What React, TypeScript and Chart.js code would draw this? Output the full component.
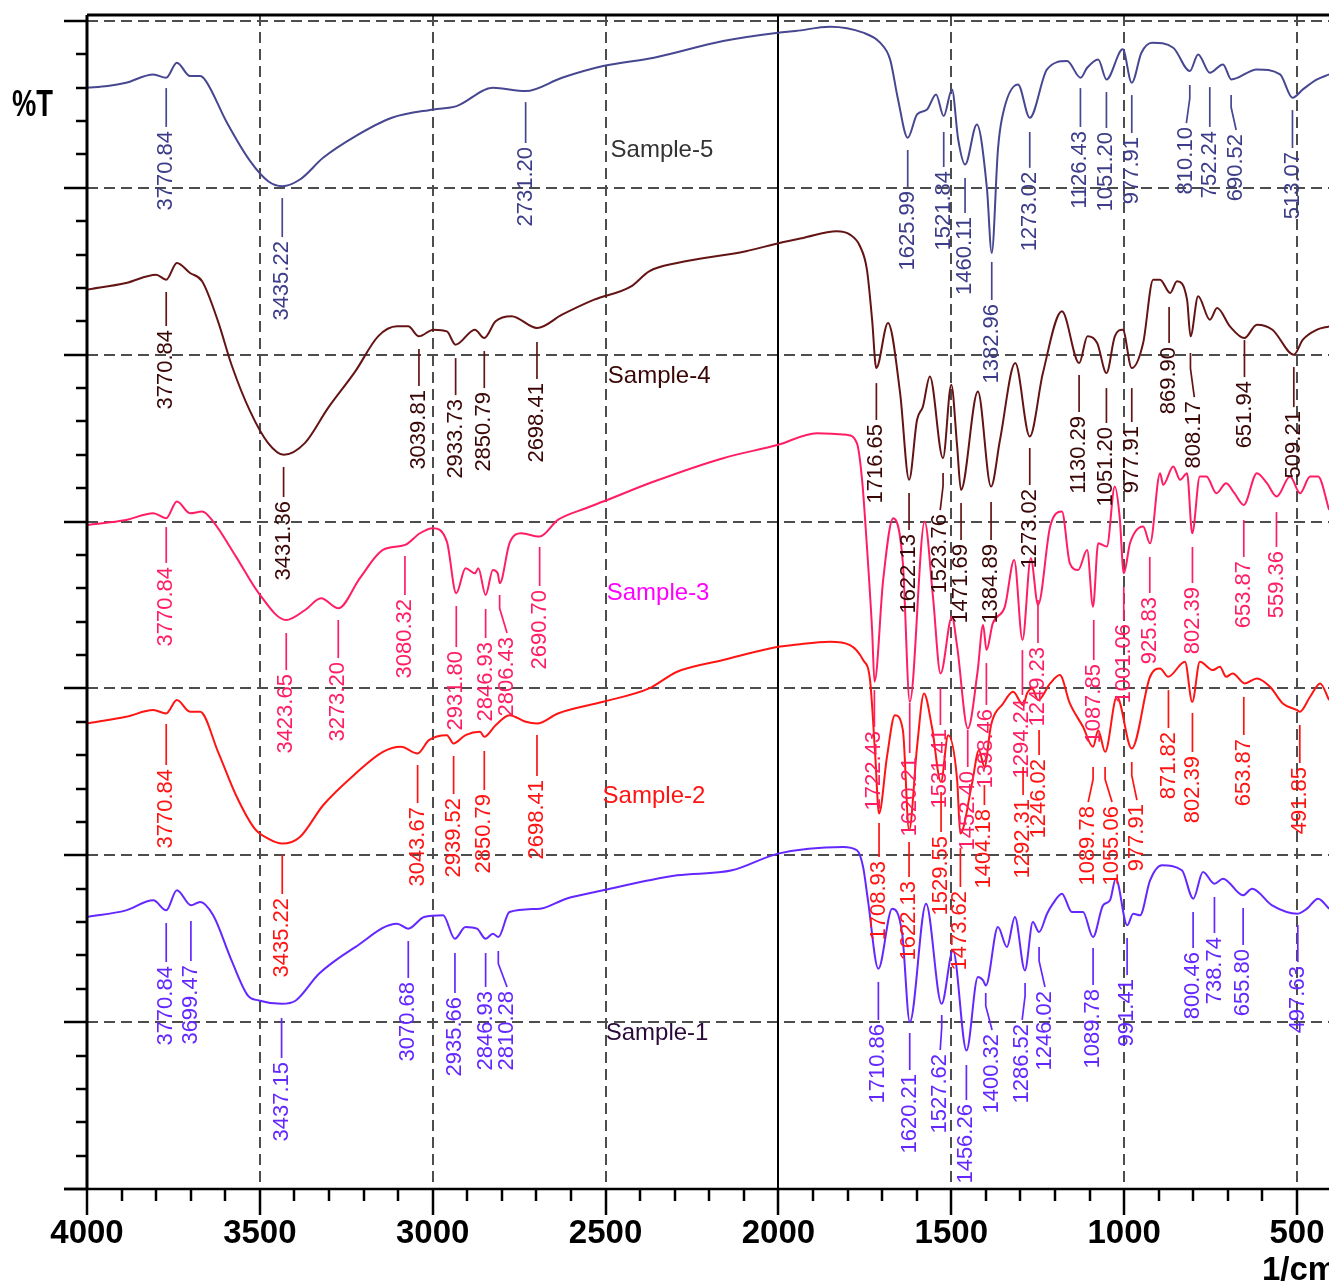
import React, { useEffect, useRef } from "react";
import { Chart, registerables } from "chart.js";

Chart.register(...registerables);

// ---------- axis values ----------
const X_MAX = 4000;
const X_MIN = 407.4;
const Y_MIN = 0;
const Y_MAX = 70.36;
const X_TICKS = [500, 1000, 1500, 2000, 2500, 3000, 3500, 4000];
const X_GRID = [3500, 3000, 2500, 1500, 1000, 500];
const X_BREAK = 2000;
const Y_GRID = [10, 20, 30, 40, 50, 60, 70];
const X_MAJOR = 500;
const X_MINOR = 100;
const Y_MAJOR = 10;
const Y_MINOR = 2;

// ---------- series: [wavenumber, %T (offset)] ----------
const SAMPLE5: [number, number][] = [
  [4000, 66.0], [3940, 66.1], [3887, 66.3], [3808, 66.8], [3771, 66.6], [3740, 67.5], [3702, 66.7], [3673, 66.7],
  [3656, 66.4], [3595, 63.9], [3528, 61.6], [3476, 60.4], [3435, 60.1], [3384, 60.5], [3317, 61.8], [3223, 63.1],
  [3118, 64.2], [2998, 64.7], [2931, 64.9], [2826, 66.0], [2731, 65.8], [2626, 66.6], [2507, 67.3], [2360, 67.8],
  [2160, 68.8], [2001, 69.3], [1950, 69.4], [1851, 69.66], [1755, 69.3], [1706, 68.7], [1677, 67.7], [1654, 65.3],
  [1626, 63.0], [1599, 64.4], [1570, 64.7], [1544, 65.6], [1522, 64.3], [1498, 65.9], [1480, 62.9], [1460, 61.4],
  [1426, 63.8], [1397, 60.0], [1383, 56.1], [1365, 62.3], [1353, 64.2], [1307, 66.2], [1273, 64.2], [1223, 67.1],
  [1165, 67.6], [1126, 66.6], [1107, 67.2], [1075, 67.7], [1051, 66.5], [1004, 68.3], [978, 66.3], [950, 68.1],
  [919, 68.7], [858, 68.4], [810, 67.0], [786, 68.0], [752, 66.9], [714, 67.4], [690, 66.5], [616, 67.1],
  [549, 66.8], [513, 65.4], [483, 65.9], [442, 66.5], [407, 66.8],
];

const SAMPLE4: [number, number][] = [
  [4000, 53.9], [3887, 54.3], [3800, 54.8], [3771, 54.5], [3740, 55.5], [3702, 54.9], [3667, 54.4], [3621, 52.0],
  [3582, 49.4], [3528, 46.6], [3476, 44.7], [3431, 44.0], [3370, 44.7], [3303, 46.8], [3224, 49.0], [3158, 51.1],
  [3103, 51.7], [3071, 51.7], [3040, 51.1], [2998, 51.5], [2959, 51.4], [2934, 50.6], [2878, 51.5], [2851, 51.0],
  [2818, 52.0], [2772, 52.3], [2698, 51.6], [2626, 52.4], [2533, 53.3], [2426, 54.1], [2374, 55.0], [2293, 55.5],
  [2094, 56.2], [1997, 56.7], [1929, 57.0], [1831, 57.4], [1793, 57.2], [1764, 56.5], [1744, 55.1], [1729, 52.1],
  [1717, 49.2], [1683, 51.9], [1648, 47.7], [1622, 42.5], [1599, 46.1], [1582, 46.9], [1562, 48.7], [1524, 43.8],
  [1500, 48.2], [1483, 44.5], [1472, 41.9], [1423, 47.8], [1385, 42.1], [1359, 44.9], [1315, 49.5], [1273, 45.1],
  [1235, 48.9], [1180, 52.6], [1130, 49.5], [1106, 51.1], [1078, 50.7], [1051, 48.9], [1027, 51.1], [1004, 51.5],
  [978, 49.2], [945, 50.7], [916, 54.5], [896, 54.5], [867, 53.7], [847, 54.4], [818, 53.3], [808, 51.1],
  [786, 53.5], [752, 52.1], [731, 52.8], [694, 51.7], [652, 51.0], [616, 51.8], [571, 51.5], [509, 50.0],
  [483, 50.9], [442, 51.5], [407, 51.7],
];

const SAMPLE3: [number, number][] = [
  [4000, 39.8], [3887, 40.1], [3808, 40.5], [3771, 40.2], [3740, 41.2], [3702, 40.5], [3667, 40.6], [3635, 40.0],
  [3569, 37.9], [3503, 35.7], [3424, 34.1], [3369, 34.7], [3323, 35.4], [3273, 34.8], [3211, 36.6], [3144, 38.3],
  [3080, 38.6], [3037, 39.3], [3000, 39.6], [2959, 38.8], [2932, 35.7], [2905, 37.2], [2878, 36.9], [2868, 37.2],
  [2847, 35.6], [2826, 37.1], [2812, 36.9], [2806, 36.3], [2778, 38.7], [2744, 39.3], [2691, 39.1], [2638, 40.1],
  [2557, 40.8], [2507, 41.2], [2360, 42.4], [2160, 43.8], [2001, 44.6], [1889, 45.3], [1802, 45.2], [1773, 44.7],
  [1758, 42.5], [1744, 38.5], [1729, 33.5], [1722, 30.4], [1697, 36.5], [1668, 40.2], [1640, 37.5], [1620, 29.2],
  [1577, 40.0], [1553, 35.5], [1531, 30.9], [1498, 34.3], [1483, 32.5], [1452, 27.6], [1424, 31.0], [1408, 33.8],
  [1398, 32.3], [1380, 33.9], [1345, 34.9], [1318, 37.7], [1294, 32.9], [1270, 37.8], [1249, 35.0], [1214, 39.7],
  [1180, 40.6], [1157, 37.5], [1133, 37.1], [1107, 38.3], [1090, 34.9], [1075, 38.7], [1050, 38.5], [1027, 42.1],
  [1013, 40.3], [1001, 36.9], [983, 38.7], [945, 39.7], [925, 38.7], [896, 42.9], [887, 42.2], [858, 43.3],
  [838, 42.5], [818, 42.9], [803, 39.3], [781, 42.7], [762, 42.7], [733, 41.7], [705, 42.3], [681, 41.7],
  [654, 41.0], [616, 42.9], [587, 42.3], [559, 41.5], [520, 42.7], [491, 41.7], [462, 42.7], [439, 42.7],
  [407, 40.7],
];

const SAMPLE2: [number, number][] = [
  [4000, 27.9], [3887, 28.3], [3808, 28.7], [3771, 28.5], [3740, 29.3], [3702, 28.6], [3673, 28.6], [3621, 26.2],
  [3569, 23.6], [3515, 21.6], [3476, 21.0], [3435, 20.7], [3384, 21.1], [3317, 23.0], [3223, 24.9], [3144, 26.2],
  [3092, 26.5], [3044, 26.1], [3011, 26.9], [2959, 27.2], [2940, 26.7], [2905, 27.2], [2863, 27.4], [2851, 27.1],
  [2818, 27.8], [2778, 28.4], [2731, 28.0], [2698, 27.9], [2638, 28.5], [2507, 29.2], [2374, 30.0], [2293, 31.0],
  [2160, 31.7], [2001, 32.5], [1958, 32.6], [1851, 32.8], [1793, 32.6], [1755, 31.7], [1735, 30.5], [1720, 26.0],
  [1709, 22.5], [1686, 25.9], [1663, 28.4], [1640, 27.5], [1622, 21.5], [1599, 26.5], [1579, 29.7], [1556, 27.7],
  [1530, 24.4], [1509, 27.2], [1483, 24.5], [1474, 21.3], [1440, 24.3], [1420, 26.3], [1404, 25.3], [1385, 27.8],
  [1350, 29.1], [1321, 29.8], [1292, 29.0], [1281, 29.7], [1266, 30.0], [1249, 29.3], [1214, 30.3], [1186, 30.8],
  [1157, 29.1], [1119, 27.7], [1090, 26.5], [1075, 27.5], [1055, 26.2], [1021, 29.5], [978, 26.4], [925, 30.7],
  [896, 31.2], [873, 30.7], [824, 31.6], [803, 29.2], [781, 31.6], [743, 31.1], [723, 31.3], [705, 30.7],
  [686, 30.9], [651, 30.3], [616, 30.6], [578, 30.1], [541, 29.1], [500, 28.7], [492, 28.6], [462, 29.5],
  [433, 30.3], [407, 29.3],
];

const SAMPLE1: [number, number][] = [
  [4000, 16.3], [3887, 16.7], [3808, 17.3], [3771, 16.7], [3740, 17.9], [3699, 17.0], [3673, 17.2], [3635, 16.4],
  [3582, 13.7], [3535, 11.6], [3503, 11.3], [3437, 11.1], [3396, 11.3], [3329, 12.9], [3224, 14.5], [3103, 15.9],
  [3071, 15.6], [3025, 16.3], [2970, 16.4], [2936, 15.0], [2905, 15.7], [2872, 15.6], [2847, 15.0], [2826, 15.3],
  [2810, 15.1], [2778, 16.6], [2690, 16.8], [2614, 17.4], [2507, 17.9], [2374, 18.5], [2293, 18.8], [2134, 19.1],
  [2001, 20.1], [1813, 20.5], [1773, 20.3], [1755, 19.3], [1741, 17.3], [1711, 13.2], [1671, 16.8], [1642, 15.3],
  [1620, 10.0], [1573, 17.1], [1528, 11.1], [1495, 14.3], [1456, 8.3], [1423, 12.7], [1408, 12.5], [1400, 12.2],
  [1365, 15.7], [1339, 14.5], [1316, 16.3], [1287, 13.1], [1264, 16.0], [1246, 15.4], [1223, 16.5], [1206, 17.1],
  [1180, 17.7], [1151, 16.6], [1119, 16.6], [1090, 15.1], [1061, 17.0], [1041, 17.3], [1024, 18.6], [991, 15.8],
  [974, 16.5], [954, 16.4], [925, 18.5], [891, 19.4], [833, 19.1], [800, 17.4], [772, 19.0], [739, 18.3],
  [714, 18.6], [656, 17.6], [630, 18.0], [572, 17.0], [498, 16.5], [471, 16.8], [439, 17.4], [407, 16.8],
];

// ---------- peak annotations: [wavenumber, line top, line bottom, label wavenumber (if leader bends)] ----------
type Peak = [number, number, number, number?];

const PEAKS5: Peak[] = [
  [3770.84, 65.98, 63.65], [3435.22, 59.39, 57.05], [2731.2, 65.14, 62.69], [1625.99, 62.27, 60.05],
  [1521.84, 63.35, 61.25], [1460.11, 60.59, 58.49], [1382.96, 55.56, 53.28], [1273.02, 63.35, 61.2],
  [1126.43, 65.98, 63.65], [1051.2, 65.74, 63.59], [977.91, 65.56, 63.29], [810.1, 66.16, 63.88, 820],
  [752.24, 66.04, 63.65], [690.52, 65.56, 63.47, 676], [513.07, 64.66, 62.39],
];

const PEAKS4: Peak[] = [
  [3770.84, 53.76, 51.72], [3431.36, 43.27, 41.47], [3039.81, 50.34, 48.12], [2933.73, 49.8, 47.58],
  [2850.79, 50.22, 48.0], [2698.41, 50.76, 48.54], [1716.65, 48.3, 46.09], [1622.13, 41.71, 39.49],
  [1523.76, 42.91, 40.69, 1532], [1471.69, 41.11, 38.89], [1384.89, 41.17, 38.89], [1273.02, 44.41, 42.19],
  [1130.29, 48.78, 46.57], [1051.2, 48.0, 45.91], [977.91, 48.0, 45.97], [869.9, 52.86, 50.7],
  [808.17, 50.1, 47.46, 797], [651.94, 50.88, 48.66], [509.21, 49.26, 46.86],
];

const PEAKS3: Peak[] = [
  [3770.84, 39.67, 37.52], [3423.65, 33.32, 31.1], [3273.2, 34.1, 31.82], [3080.32, 37.94, 35.6],
  [2931.8, 34.94, 32.48], [2846.93, 34.76, 33.02], [2806.43, 35.6, 33.32, 2785], [2690.7, 38.48, 36.14],
  [1722.43, 29.9, 27.69], [1620.21, 29.13, 26.13], [1531.41, 30.02, 27.81], [1452.4, 27.51, 25.29],
  [1398.46, 31.52, 29.01], [1294.24, 32.3, 29.61], [1249.23, 35.3, 32.72], [1087.85, 34.1, 31.7],
  [1001.06, 36.08, 34.1], [925.83, 37.88, 35.72], [802.39, 38.48, 36.32], [653.87, 40.09, 37.88],
  [559.36, 40.57, 38.48],
];

const PEAKS2: Peak[] = [
  [3770.84, 27.87, 25.41], [3435.22, 20.02, 17.68], [3043.67, 25.41, 23.13], [2939.52, 25.95, 23.67],
  [2850.79, 26.25, 23.91], [2698.41, 27.21, 24.75], [1708.93, 21.93, 19.9], [1622.13, 20.8, 18.7],
  [1529.55, 23.79, 21.4], [1473.62, 20.43, 18.1], [1404.18, 24.21, 23.01], [1292.31, 25.29, 23.61],
  [1246.02, 27.51, 26.01], [1089.78, 25.29, 23.19, 1104], [1055.06, 25.29, 23.19, 1035],
  [977.91, 25.59, 23.31, 963], [871.82, 29.9, 27.63], [802.39, 28.53, 26.19], [653.87, 29.49, 27.21],
  [491.85, 27.81, 25.53],
];

const PEAKS1: Peak[] = [
  [3770.84, 15.94, 13.6], [3699.47, 16.06, 13.66], [3437.15, 10.25, 7.85], [3070.68, 14.86, 12.65],
  [2935.66, 14.14, 11.75], [2846.93, 14.14, 12.11], [2810.28, 14.26, 12.11, 2785], [1710.86, 12.41, 10.13],
  [1620.21, 9.35, 7.13], [1527.62, 10.43, 8.33, 1532], [1456.26, 7.43, 5.33], [1400.32, 11.75, 9.53, 1382],
  [1286.52, 12.35, 10.13, 1295], [1246.02, 14.5, 12.11, 1229], [1089.78, 14.44, 12.23], [991.41, 15.04, 12.82],
  [800.46, 16.6, 14.44], [738.74, 17.5, 15.34], [655.8, 16.84, 14.62], [497.63, 15.82, 13.6],
];

// ---------- sample names and where they sit (data coordinates) ----------
const NAMES = ["Sample-5", "Sample-4", "Sample-3", "Sample-2", "Sample-1"];
const NAME_AT: [number, number][] = [[2337, 62.27], [2345, 48.72], [2348, 35.72], [2360, 23.55], [2351, 9.35]];

// ---------- styles ----------
const SERIES = [SAMPLE5, SAMPLE4, SAMPLE3, SAMPLE2, SAMPLE1];
const PEAKS = [PEAKS5, PEAKS4, PEAKS3, PEAKS2, PEAKS1];
const LINE_COLORS = ["#474791", "#641414", "#ff1e64", "#ff1414", "#6428ff"];
const LABEL_COLORS = ["#3c3c88", "#3a0606", "#ff1e64", "#ff1414", "#6428ff"];
const NAME_COLORS = ["#333333", "#3a0606", "#ff00ff", "#ff1414", "#2a0a3a"];
const FONT = '"Liberation Sans", Arial, Helvetica, sans-serif';

const overlayPlugin = {
  id: "ftirOverlay",
  beforeDatasetsDraw(chart: any) {
    const { ctx, chartArea, scales } = chart;
    const xs = scales.x;
    const ys = scales.y;
    const { left, right, top, bottom } = chartArea;
    ctx.save();
    ctx.strokeStyle = "#4d4d4d";
    ctx.lineWidth = 2;
    ctx.setLineDash([11, 6]);
    X_GRID.forEach((v) => {
      const p = Math.round(xs.getPixelForValue(v));
      ctx.beginPath();
      ctx.moveTo(p, top);
      ctx.lineTo(p, bottom);
      ctx.stroke();
    });
    Y_GRID.forEach((v) => {
      const p = Math.round(ys.getPixelForValue(v));
      ctx.beginPath();
      ctx.moveTo(left, p);
      ctx.lineTo(right, p);
      ctx.stroke();
    });
    ctx.setLineDash([]);
    ctx.strokeStyle = "#000";
    ctx.lineWidth = 2;
    const pb = Math.round(xs.getPixelForValue(X_BREAK));
    ctx.beginPath();
    ctx.moveTo(pb, top);
    ctx.lineTo(pb, bottom);
    ctx.stroke();
    ctx.restore();
  },
  afterDatasetsDraw(chart: any) {
    const { ctx, chartArea, scales } = chart;
    const xs = scales.x;
    const ys = scales.y;
    const { left, right, top, bottom } = chartArea;
    ctx.save();
    // frame
    ctx.strokeStyle = "#000";
    ctx.lineWidth = 3;
    ctx.beginPath();
    ctx.moveTo(left, top);
    ctx.lineTo(right, top);
    ctx.moveTo(left, top);
    ctx.lineTo(left, bottom);
    ctx.stroke();
    ctx.lineWidth = 2.5;
    ctx.beginPath();
    ctx.moveTo(left - 23, bottom);
    ctx.lineTo(right, bottom);
    ctx.stroke();
    // y ticks
    for (let v = Y_MIN; v <= Y_MAX; v += Y_MINOR) {
      const p = Math.round(ys.getPixelForValue(v));
      const major = Math.abs(v % Y_MAJOR) < 1e-6;
      ctx.lineWidth = 2.5;
      ctx.beginPath();
      ctx.moveTo(left - (major ? 23 : 11), p);
      ctx.lineTo(left, p);
      ctx.stroke();
    }
    // x ticks
    for (let w = X_MAJOR; w <= X_MAX; w += X_MINOR) {
      const p = Math.round(xs.getPixelForValue(w));
      const major = w % X_MAJOR === 0;
      ctx.lineWidth = 2.5;
      ctx.beginPath();
      ctx.moveTo(p, bottom);
      ctx.lineTo(p, bottom + (major ? 26 : 12));
      ctx.stroke();
    }
    // peak labels
    ctx.font = `22px ${FONT}`;
    PEAKS.forEach((list, i) => {
      ctx.strokeStyle = LINE_COLORS[i];
      ctx.fillStyle = LABEL_COLORS[i];
      ctx.lineWidth = 1.7;
      list.forEach(([wn, t, b, tw]) => {
        const x0 = xs.getPixelForValue(wn);
        const x1 = tw !== undefined ? xs.getPixelForValue(tw) : x0;
        const y0 = ys.getPixelForValue(t);
        const y1 = ys.getPixelForValue(b);
        ctx.beginPath();
        ctx.moveTo(x0, y0);
        if (tw !== undefined) ctx.lineTo(x0, y0 + (y1 - y0) * 0.35);
        ctx.lineTo(x1, y1);
        ctx.stroke();
        ctx.save();
        ctx.translate(x1, y1 + 4);
        ctx.rotate(-Math.PI / 2);
        ctx.textAlign = "right";
        ctx.textBaseline = "middle";
        ctx.fillText(wn.toFixed(2), 0, 0);
        ctx.restore();
      });
    });
    // sample names
    ctx.font = `24px ${FONT}`;
    ctx.textAlign = "center";
    ctx.textBaseline = "middle";
    NAMES.forEach((n, i) => {
      ctx.fillStyle = NAME_COLORS[i];
      ctx.fillText(n, xs.getPixelForValue(NAME_AT[i][0]), ys.getPixelForValue(NAME_AT[i][1]));
    });
    // axis titles
    ctx.fillStyle = "#000";
    ctx.textAlign = "left";
    ctx.textBaseline = "alphabetic";
    ctx.save();
    ctx.font = `bold 36px ${FONT}`;
    ctx.translate(12, 116);
    ctx.scale(0.76, 1);
    ctx.fillText("%T", 0, 0);
    ctx.restore();
    ctx.font = `bold 33px ${FONT}`;
    ctx.fillText("1/cm", 1262, 1280);
    ctx.restore();
  },
};

export default function App() {
  const ref = useRef<HTMLCanvasElement | null>(null);
  useEffect(() => {
    document.body.style.margin = "0";
    const canvas = ref.current;
    if (!canvas) return;
    const chart = new Chart(canvas, {
      type: "line",
      data: {
        datasets: SERIES.map((s, i) => ({
          label: NAMES[i],
          data: s.map(([x, y]) => ({ x, y })),
          borderColor: LINE_COLORS[i],
          borderWidth: 2,
          pointRadius: 0,
          fill: false,
          cubicInterpolationMode: "monotone" as const,
        })),
      },
      options: {
        animation: false,
        responsive: false,
        events: [],
        layout: { padding: { top: 15, right: 0, bottom: 0, left: 0 } },
        plugins: { legend: { display: false }, tooltip: { enabled: false } },
        scales: {
          x: {
            type: "linear",
            reverse: true,
            min: X_MIN,
            max: X_MAX,
            grid: { display: false, drawTicks: false },
            border: { display: false },
            afterBuildTicks: (s: any) => {
              s.ticks = X_TICKS.map((value) => ({ value }));
            },
            ticks: {
              autoSkip: false,
              maxRotation: 0,
              padding: 25,
              color: "#000",
              font: { family: FONT, size: 33, weight: "bold" },
              callback: (v: any) => String(v),
            },
            afterFit: (s: any) => {
              s.height = 92;
              s.paddingLeft = 0;
              s.paddingRight = 0;
            },
          },
          y: {
            type: "linear",
            min: Y_MIN,
            max: Y_MAX,
            grid: { display: false, drawTicks: false },
            border: { display: false },
            ticks: { display: false },
            afterFit: (s: any) => {
              s.width = 87;
              s.paddingTop = 0;
              s.paddingBottom = 0;
            },
          },
        },
      } as any,
      plugins: [overlayPlugin],
    });
    return () => chart.destroy();
  }, []);
  return (
    <div style={{ width: 1329, height: 1281, background: "#fff" }}>
      <canvas ref={ref} width={1329} height={1281} />
    </div>
  );
}
